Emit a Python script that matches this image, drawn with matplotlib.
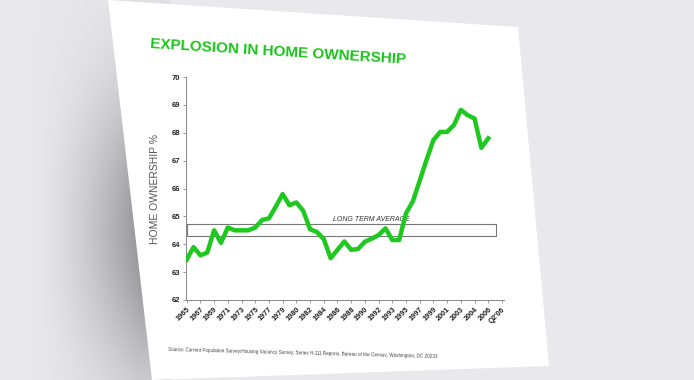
import numpy as np
import matplotlib
matplotlib.use("Agg")
import matplotlib.pyplot as plt
from matplotlib.patches import Polygon, Rectangle

plt.rcParams['font.family'] = ['Liberation Sans', 'DejaVu Sans']

# ---------------- data ----------------
tick_labels = ['1965', '1967', '1969', '1971', '1973', '1975', '1977', '1979',
               '1980', '1982', '1984', '1986', '1988', '1990', '1992', '1993',
               '1995', '1997', '1999', '2001', '2003', '2004', '2006', "Q2'06"]
ownership = [63.45, 63.9, 63.6, 63.7, 64.5, 64.05, 64.6, 64.5, 64.5, 64.5,
             64.6, 64.87, 64.93, 65.35, 65.8, 65.4, 65.5, 65.2, 64.54, 64.44,
             64.19, 63.5, 63.8, 64.1, 63.8, 63.83, 64.09, 64.2, 64.33, 64.57,
             64.15, 64.15, 65.11, 65.54, 66.28, 67.03, 67.74, 68.03, 68.03,
             68.28, 68.82, 68.63, 68.51, 67.46, 67.8]
avg_low, avg_high = 64.3, 64.72
y_ticks = [62, 63, 64, 65, 66, 67, 68, 69, 70]

W, H = 694, 380
fig = plt.figure(figsize=(W / 100, H / 100), dpi=100)
fig.patch.set_facecolor('white')

# ---------------- background (photo of a slide) ----------------
bg = fig.add_axes([0, 0, 1, 1], zorder=0)
bg.set_xlim(0, W)
bg.set_ylim(H, 0)
bg.axis('off')
xx, yy = np.meshgrid(np.linspace(0, W, 350), np.linspace(0, H, 190))
fx = np.clip((xx - 30) / 110, 0, 1) ** 1.5 * (xx < 170)
fy = np.exp(-((yy - 230) / 150) ** 2)
val = 0.91 - 0.33 * fx * fy
img = np.dstack([val, val, val + 0.02])
img = np.clip(img, 0, 1)
bg.imshow(img, extent=[0, W, H, 0], aspect='auto', zorder=0)
slide = Polygon([(108, 0), (518, 27), (549, 366), (152, 380)],
                closed=True, facecolor='white', edgecolor='none', zorder=2)
bg.add_patch(slide)

# ---------------- chart ----------------
ax = fig.add_axes([186 / W, 1 - 300 / H, 318 / W, 223 / H], zorder=3)
ax.patch.set_alpha(0)
x = np.arange(len(ownership))
xt = np.arange(0, 2 * len(tick_labels), 2)

ax.add_patch(Rectangle((0, avg_low), 45.2, avg_high - avg_low,
                       facecolor='white', edgecolor='#777777', lw=0.8, zorder=2))
ax.text(27, avg_high + 0.06, 'LONG TERM AVERAGE', fontsize=5, style='italic',
        color='#333333', ha='center', va='bottom', zorder=3)
ax.plot(x, ownership, color='#1ec81e', lw=3.2, solid_joinstyle='round', zorder=4)

ax.set_xlim(-0.1, xt[-1] + 0.3)
ax.set_ylim(62, 70)
ax.set_yticks(y_ticks)
ax.set_yticklabels([str(v) for v in y_ticks], fontsize=5.5, fontweight='bold',
                   color='#222222')
ax.set_xticks(xt)
ax.set_xticklabels(tick_labels, rotation=45, ha='right', rotation_mode='anchor',
                   fontsize=5.3, fontweight='bold', color='#222222')
for s in ['top', 'right']:
    ax.spines[s].set_visible(False)
for s in ['left', 'bottom']:
    ax.spines[s].set_color('#888888')
    ax.spines[s].set_linewidth(0.7)
ax.tick_params(axis='both', length=2.5, width=0.6, color='#888888', pad=2)
ax.set_ylabel('HOME OWNERSHIP %', fontsize=7.5, color='#555555', labelpad=8)

fig.text(150 / W, 1 - 52 / H, 'EXPLOSION IN HOME OWNERSHIP', fontsize=11,
         fontweight='bold', color='#19c419', ha='left', va='center',
         rotation=-3.5, zorder=5)
fig.text(168 / W, 1 - 353 / H,
         'Source: Current Population Survey/Housing Vacancy Survey, Series H-111 '
         'Reports, Bureau of the Census, Washington, DC 20233',
         fontsize=3.3, color='#444444', ha='left', va='center', rotation=-1.5,
         zorder=5)

fig.savefig('out.png', dpi=100)
